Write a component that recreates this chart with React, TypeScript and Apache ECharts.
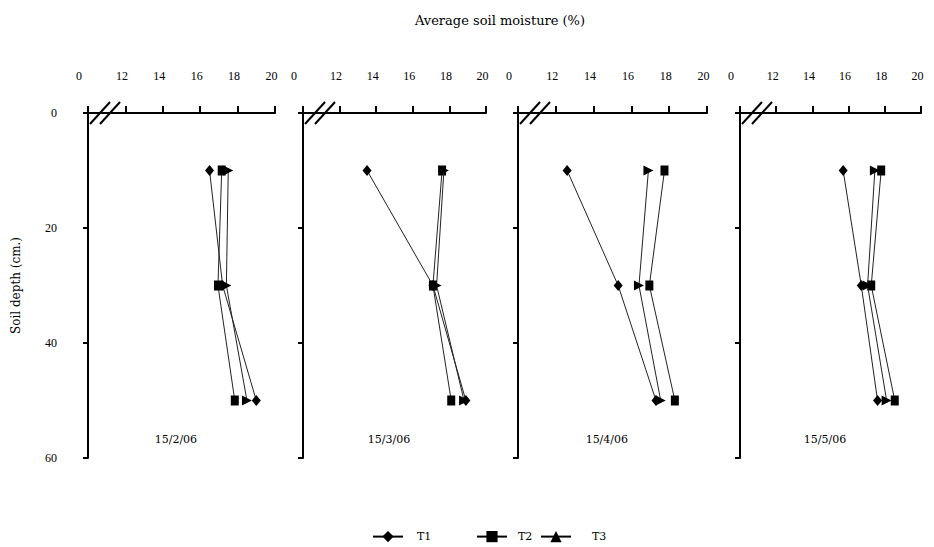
import React, { useEffect, useRef } from "react";
import * as echarts from "echarts";

const dates = ["15/2/06", "15/3/06", "15/4/06", "15/5/06"];
const depths = [10, 30, 50];
const seriesNames = ["T1", "T2", "T3"];
const t1Values = [
  [16.5, 17.2, 19.0],
  [13.5, 17.1, 18.9],
  [12.6, 15.3, 17.3],
  [15.7, 16.7, 17.6],
];
const t2Values = [
  [17.15, 16.95, 17.85],
  [17.6, 17.1, 18.1],
  [17.75, 16.95, 18.3],
  [17.8, 17.25, 18.55],
];
const t3Values = [
  [17.5, 17.4, 18.5],
  [17.7, 17.3, 18.8],
  [16.9, 16.4, 17.55],
  [17.45, 17.05, 18.1],
];
const moistureMin = 10;
const moistureMax = 20;
const moistureStep = 2;
const depthMin = 0;
const depthMax = 60;
const depthStep = 20;

const FONT = "'Liberation Serif', 'DejaVu Serif', serif";
const WIDE = "'DejaVu Serif', 'Liberation Serif', serif";
const panelLeft = [88, 303, 518, 740];
const panelWidth = [187, 183, 189, 181];
const panelTop = 113;
const panelHeight = 345;
const legendLeft = [372, 476, 540];
const legendTextPad = [9, 6, 16];

export default function App() {
  const ref = useRef<HTMLDivElement>(null);
  useEffect(() => {
    if (!ref.current) return;
    const chart = echarts.init(ref.current, undefined, { renderer: "svg" });
    const allValues = [t1Values, t2Values, t3Values];
    const symbols = ["diamond", "rect", "triangle"];
    const symbolSizes: any[] = [[9, 11], [8, 10], [10, 10]];
    const symbolRotates = [0, 0, -90];

    const grids = panelLeft.map((l, i) => ({
      left: l,
      top: panelTop,
      width: panelWidth[i],
      height: panelHeight,
    }));
    const xAxes = panelLeft.map((_, i) => ({
      type: "value",
      gridIndex: i,
      position: "top",
      min: moistureMin,
      max: moistureMax,
      interval: moistureStep,
      axisLine: { show: true, lineStyle: { color: "#000", width: 2 } },
      axisTick: { show: true, length: 7, lineStyle: { color: "#000", width: 2 } },
      splitLine: { show: false },
      axisLabel: {
        margin: 31,
        color: "#000",
        fontFamily: FONT,
        fontSize: 12,
        padding: [0, 7, 0, 0],
        formatter: (v: number) => (v === moistureMin ? "{z|0}" : String(v)),
        rich: { z: { padding: [0, 11, 0, 0], fontFamily: FONT, fontSize: 12, color: "#000" } },
      },
    }));
    const yAxes = panelLeft.map((_, i) => ({
      type: "value",
      gridIndex: i,
      inverse: true,
      min: depthMin,
      max: depthMax,
      interval: depthStep,
      name: i === 0 ? "Soil depth (cm.)" : "",
      nameLocation: "middle",
      nameRotate: 90,
      nameGap: 66,
      nameTextStyle: { color: "#000", fontFamily: WIDE, fontSize: 12 },
      axisLine: { show: true, lineStyle: { color: "#000", width: 2 } },
      axisTick: { show: true, length: 5, lineStyle: { color: "#000", width: 2 } },
      splitLine: { show: false },
      axisLabel: {
        show: i === 0,
        margin: 31,
        color: "#000000",
        fontFamily: FONT,
        fontSize: 12,
      },
    }));

    const series: any[] = [];
    for (let s = 0; s < 3; s++) {
      for (let p = 0; p < 4; p++) {
        series.push({
          type: "line",
          name: seriesNames[s],
          xAxisIndex: p,
          yAxisIndex: p,
          data: depths.map((d, k) => [allValues[s][p][k], d]),
          symbol: symbols[s],
          symbolSize: symbolSizes[s],
          symbolRotate: symbolRotates[s],
          showAllSymbol: true,
          lineStyle: { color: "#222", width: 1 },
          itemStyle: { color: "#000" },
          z: 3 + s,
        });
      }
    }

    const graphics: any[] = [];
    panelLeft.forEach((l, i) => {
      const y0 = panelTop;
      graphics.push({
        type: "line",
        shape: { x1: l + 2, y1: y0 + 11, x2: l + 22, y2: y0 - 11 },
        style: { stroke: "#000", lineWidth: 2 },
      });
      graphics.push({
        type: "line",
        shape: { x1: l + 12, y1: y0 + 11, x2: l + 32, y2: y0 - 11 },
        style: { stroke: "#000", lineWidth: 2 },
      });
      graphics.push({
        type: "text",
        x: l + panelWidth[i] * 0.47,
        y: 439,
        style: {
          text: dates[i],
          fill: "#000",
          font: `11px ${WIDE}`,
          textAlign: "center",
          textVerticalAlign: "middle",
        },
      });
    });
    graphics.push({
      type: "text",
      x: 500,
      y: 20,
      style: {
        text: "Average soil moisture (%)",
        fill: "#000",
        font: `13px ${WIDE}`,
        textAlign: "center",
        textVerticalAlign: "middle",
      },
    });

    const legends = seriesNames.map((n, i) => ({
      left: legendLeft[i],
      top: 531,
      itemWidth: 30,
      itemHeight: 14,
      padding: 0,
      data: [i === 2 ? { name: n, symbolRotate: 0 } : { name: n }],
      lineStyle: { width: 2, color: "#000" },
      textStyle: {
        color: "#000",
        fontFamily: WIDE,
        fontSize: 11,
        padding: [0, 0, 0, legendTextPad[i]],
      },
    }));

    chart.setOption({
      animation: false,
      backgroundColor: "#fff",
      textStyle: { color: "#000", fontFamily: FONT },
      legend: legends,
      grid: grids,
      xAxis: xAxes,
      yAxis: yAxes,
      series,
      graphic: graphics,
    });
    return () => chart.dispose();
  }, []);
  return (
    <div
      ref={ref}
      style={{ position: "fixed", left: 0, top: 0, width: 934, height: 547 }}
    />
  );
}
